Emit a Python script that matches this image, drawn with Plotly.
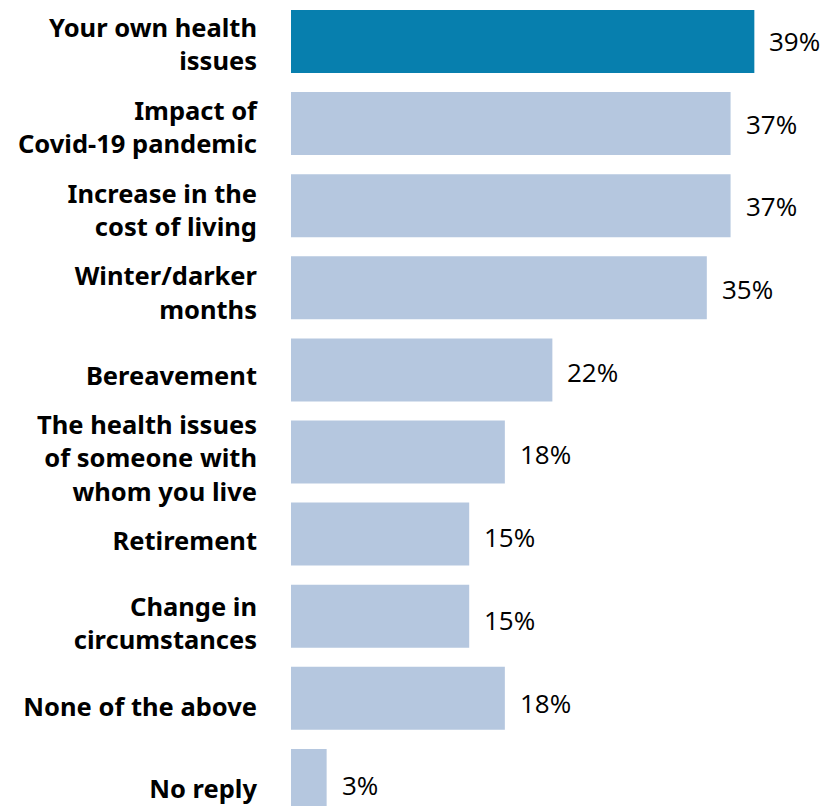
import plotly.graph_objects as go

# Survey answers, top to bottom
categories = [
    "Your own health<br>issues",
    "Impact of<br>Covid-19 pandemic",
    "Increase in the<br>cost of living",
    "Winter/darker<br>months",
    "Bereavement",
    "The health issues<br>of someone with<br>whom you live",
    "Retirement",
    "Change in<br>circumstances",
    "None of the above",
    "No reply",
]
values = [39, 37, 37, 35, 22, 18, 15, 15, 18, 3]
value_labels = ["39%", "37%", "37%", "35%", "22%", "18%", "15%", "15%", "18%", "3%"]

DARK = "#077fae"
LIGHT = "#b5c7df"
colors = [DARK] + [LIGHT] * (len(values) - 1)

fig = go.Figure()

# Bars on the primary category axis
fig.add_trace(
    go.Bar(
        x=values,
        y=categories,
        orientation="h",
        marker=dict(color=colors, line=dict(width=0)),
        width=0.767,
        hoverinfo="skip",
        yaxis="y",
    )
)

# Invisible trace carrying the category labels on a slightly looser label axis
fig.add_trace(
    go.Scatter(
        x=[0] * len(categories),
        y=categories,
        mode="markers",
        marker=dict(opacity=0),
        hoverinfo="skip",
        yaxis="y2",
    )
)

for cat, val, lab in zip(categories, values, value_labels):
    fig.add_annotation(
        x=val, y=cat, xref="x", yref="y2", text=lab, showarrow=False,
        xanchor="left", yanchor="middle", xshift=13, yshift=4,
        font=dict(family="Open Sans", size=26, color="#000000"),
    )

fig.update_layout(
    width=828,
    height=806,
    margin=dict(l=291, r=0, t=0, b=0),
    paper_bgcolor="white",
    plot_bgcolor="white",
    showlegend=False,
    xaxis=dict(range=[0, 45.2], visible=False, fixedrange=True),
    yaxis=dict(
        type="category",
        categoryorder="array",
        categoryarray=categories,
        range=[9.312, -0.5055],
        showgrid=False, zeroline=False, showline=False,
        ticks="", showticklabels=False,
        fixedrange=True,
    ),
    yaxis2=dict(
        type="category",
        categoryorder="array",
        categoryarray=categories,
        overlaying="y",
        side="left",
        range=[9.202, -0.544],
        showgrid=False, zeroline=False, showline=False,
        ticks="",
        ticklabelstandoff=33,
        tickfont=dict(family="Noto Sans", size=25.5, color="#000000", weight="bold"),
        fixedrange=True,
    ),
)

fig.write_html("out.html", config={"displayModeBar": False})
